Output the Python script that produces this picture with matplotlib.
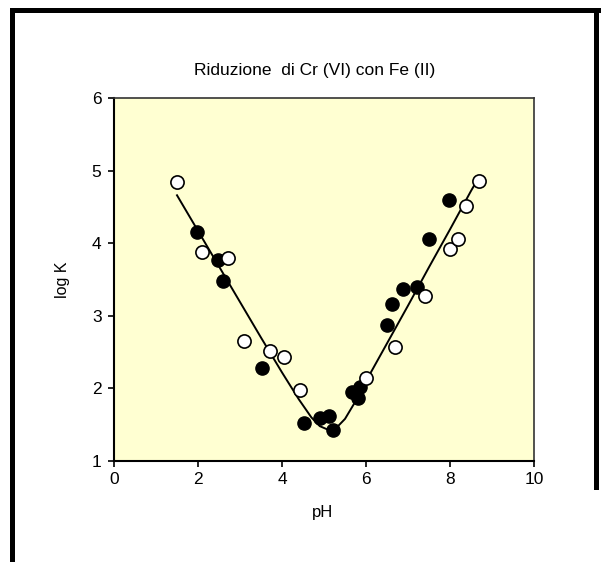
import matplotlib
matplotlib.use("Agg")
import matplotlib.pyplot as plt
from matplotlib.patches import Rectangle

plt.rcParams['font.family'] = ['Liberation Sans', 'DejaVu Sans']

# Data
ph_open = [1.50, 2.10, 2.71, 3.10, 3.71, 4.05, 4.43, 6.00, 6.69, 7.40, 8.00, 8.19, 8.38, 8.69]
logk_open = [4.84, 3.88, 3.80, 2.65, 2.52, 2.43, 1.98, 2.14, 2.57, 3.27, 3.92, 4.06, 4.51, 4.86]

ph_filled = [1.98, 2.48, 2.60, 3.52, 4.52, 4.90, 5.12, 5.21, 5.67, 5.81, 5.86,
             6.50, 6.62, 6.88, 7.21, 7.50, 7.98]
logk_filled = [4.15, 3.77, 3.48, 2.28, 1.52, 1.59, 1.62, 1.43, 1.95, 1.87, 2.02,
               2.87, 3.16, 3.37, 3.40, 4.06, 4.60]

ph_curve = [1.5, 2.0, 2.5, 3.0, 3.5, 4.0, 4.4, 4.7, 4.9, 5.1, 5.3, 5.5, 5.8, 6.0,
            6.5, 7.0, 7.5, 8.0, 8.5, 8.7]
logk_curve = [4.66, 4.17, 3.68, 3.19, 2.70, 2.22, 1.85, 1.60, 1.48, 1.43, 1.46, 1.58,
              1.87, 2.10, 2.62, 3.14, 3.67, 4.19, 4.72, 4.92]

x_ticks = [0, 2, 4, 6, 8, 10]
y_ticks = [1, 2, 3, 4, 5, 6]

title = "Riduzione  di Cr (VI) con Fe (II)"
xlabel = "pH"
ylabel = "log K"

W, H = 601, 562
fig = plt.figure(figsize=(W / 100, H / 100), dpi=100)
fig.patch.set_facecolor('white')

ax = fig.add_axes([114 / W, 1 - 461 / H, 420 / W, 363 / H])
ax.set_facecolor('#FFFFD2')

ax.plot(ph_curve, logk_curve, color='black', lw=1.4, zorder=2)
ax.plot(ph_filled, logk_filled, 'o', ms=9.5, mfc='black', mec='black', mew=1.0, zorder=3)
ax.plot(ph_open, logk_open, 'o', ms=9.5, mfc='white', mec='black', mew=1.2, zorder=3)

ax.set_xlim(0, 10)
ax.set_ylim(1, 6)
ax.set_xticks(x_ticks)
ax.set_yticks(y_ticks)
ax.tick_params(direction='out', length=4, width=1.2, labelsize=12.5, colors='black')
ax.tick_params(axis='y', pad=5)
ax.tick_params(axis='x', pad=4)

for s in ['left', 'bottom']:
    ax.spines[s].set_linewidth(1.5)
    ax.spines[s].set_color('black')
for s in ['top', 'right']:
    ax.spines[s].set_linewidth(1.2)
    ax.spines[s].set_color('#333333')

fig.text(315 / W, 1 - 70 / H, title, ha='center', va='center', fontsize=12.5)
fig.text(323 / W, 1 - 513 / H, xlabel, ha='center', va='center', fontsize=12)
fig.text(62 / W, 1 - 280 / H, ylabel, ha='center', va='center', fontsize=11.5, rotation=90)

# thick outer frame
def frect(x0, y0, x1, y1):
    fig.add_artist(Rectangle((x0 / W, 1 - y1 / H), (x1 - x0) / W, (y1 - y0) / H,
                             transform=fig.transFigure, facecolor='black',
                             edgecolor='none', zorder=10))

frect(10, 8, 601, 13)
frect(10, 8, 15, 562)
frect(594, 8, 599, 490)

fig.savefig("out.png", dpi=100)
